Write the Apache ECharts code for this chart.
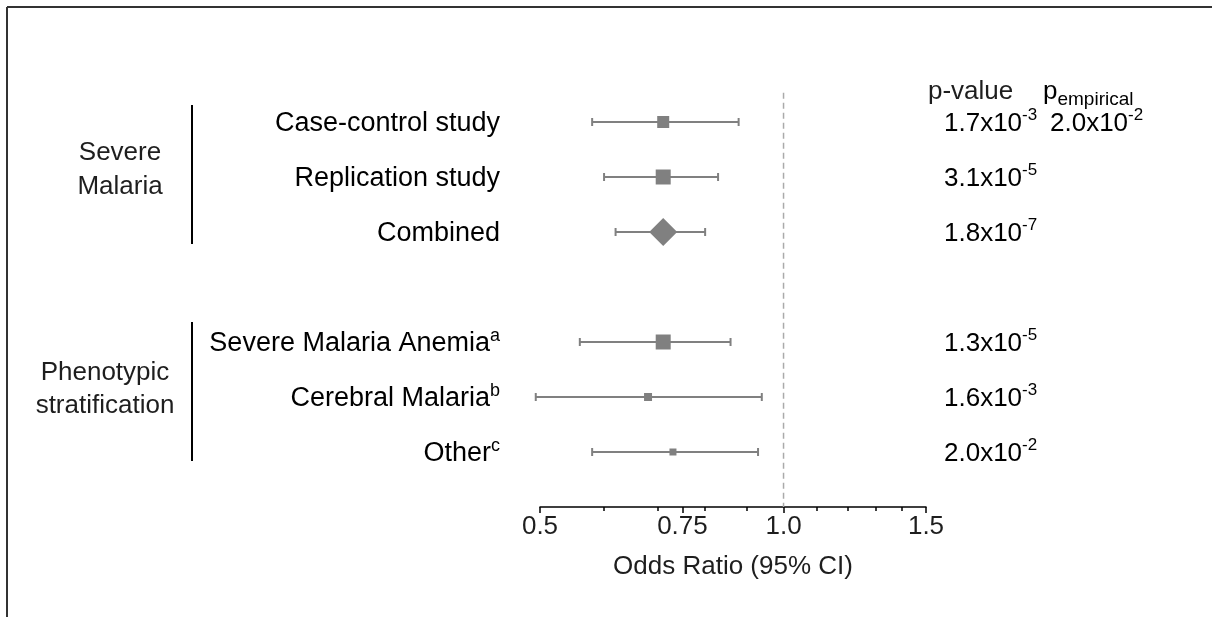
<!DOCTYPE html>
<html>
<head>
<meta charset="utf-8">
<script src="https://cdn.jsdelivr.net/npm/echarts@6/dist/echarts.min.js"></script>
<style>
  html, body { margin: 0; padding: 0; background: #fff; }
  #chart { width: 1212px; height: 617px; }
</style>
</head>
<body>
<div id="chart"></div>
<script>
// rows from top to bottom, '' is the gap between the two groups
var rowLabels = ['Case-control study', 'Replication study', 'Combined', '',
  'Severe Malaria Anemia', 'Cerebral Malaria', 'Other']
var rowSup = ['', '', '', '', 'a', 'b', 'c']
// odds ratio and 95% CI
var orVals = [0.71, 0.71, 0.71, null, 0.71, 0.68, 0.73]
var ciLow = [0.58, 0.60, 0.62, null, 0.56, 0.494, 0.58]
var ciHigh = [0.88, 0.83, 0.80, null, 0.86, 0.94, 0.93]
// p-values as mantissa / exponent
var pMant = ['1.7', '3.1', '1.8', null, '1.3', '1.6', '2.0']
var pExp = [-3, -5, -7, null, -5, -3, -2]
var pEmpMant = ['2.0', null, null, null, null, null, null]
var pEmpExp = [-2, null, null, null, null, null, null]
// x axis ticks
var majorTicks = [0.5, 0.75, 1.0, 1.5]
var majorLabels = ['0.5', '0.75', '1.0', '1.5']
var minorTicks = [0.6, 0.7, 0.8, 0.9, 1.1, 1.2, 1.3, 1.4]
var refValue = 1.0

// marker look per row
var markerSize = [12, 15, 0, 0, 15, 8, 7]
var markerShape = ['rect', 'rect', 'diamond', '', 'rect', 'rect', 'rect']

var font = '"Liberation Sans", Arial, sans-serif'
var grey = '#808080'
var ink = '#1e1e1e'

var data = []
rowLabels.forEach(function (name, i) {
  if (orVals[i] == null) return
  data.push([Math.log(orVals[i]), i, Math.log(ciLow[i]), Math.log(ciHigh[i]), i])
})

function expText(m, e) {
  return '{n|' + m + 'x10}{s|' + e + '}'
}

var richNum = {
  n: { fontSize: 26, fontFamily: font, color: ink, lineHeight: 30, verticalAlign: 'bottom' },
  s: { fontSize: 17, fontFamily: font, color: ink, lineHeight: 18, verticalAlign: 'top' }
}
var richLbl = {
  n: { fontSize: 27, fontFamily: font, color: ink, lineHeight: 30, verticalAlign: 'bottom' },
  s: { fontSize: 18, fontFamily: font, color: ink, lineHeight: 18, verticalAlign: 'top' }
}

function renderRow(params, api) {
  var i = api.value(4)
  var c = api.coord([api.value(0), i])
  var lo = api.coord([api.value(2), i])
  var hi = api.coord([api.value(3), i])
  var y = c[1]
  var cap = 4
  var kids = [
    { type: 'line', shape: { x1: lo[0], y1: y, x2: hi[0], y2: y }, style: { stroke: grey, lineWidth: 2 } },
    { type: 'line', shape: { x1: lo[0], y1: y - cap, x2: lo[0], y2: y + cap }, style: { stroke: grey, lineWidth: 2 } },
    { type: 'line', shape: { x1: hi[0], y1: y - cap, x2: hi[0], y2: y + cap }, style: { stroke: grey, lineWidth: 2 } }
  ]
  if (markerShape[i] === 'diamond') {
    kids.push({
      type: 'polygon',
      shape: { points: [[c[0], y - 14], [c[0] + 14, y], [c[0], y + 14], [c[0] - 14, y]] },
      style: { fill: grey }
    })
  } else {
    var s = markerSize[i]
    kids.push({ type: 'rect', shape: { x: c[0] - s / 2, y: y - s / 2, width: s, height: s }, style: { fill: grey } })
  }
  // row label
  var lbl = '{n|' + rowLabels[i] + '}'
  if (rowSup[i]) lbl += '{s|' + rowSup[i] + '}'
  kids.push({
    type: 'text', x: 500, y: y,
    style: { text: lbl, align: 'right', verticalAlign: 'middle', rich: richLbl }
  })
  // p-value
  if (pMant[i]) {
    kids.push({
      type: 'text', x: 944, y: y,
      style: { text: expText(pMant[i], pExp[i]), align: 'left', verticalAlign: 'middle', rich: richNum }
    })
  }
  if (pEmpMant[i]) {
    kids.push({
      type: 'text', x: 1050, y: y,
      style: { text: expText(pEmpMant[i], pEmpExp[i]), align: 'left', verticalAlign: 'middle', rich: richNum }
    })
  }
  return { type: 'group', children: kids }
}

var chart = echarts.init(document.getElementById('chart'))
var option = {
  backgroundColor: '#fff',
  animation: false,
  grid: { left: 540, right: 286, top: 67, bottom: 110 },
  xAxis: [
    {
      type: 'value',
      min: Math.log(0.5),
      max: Math.log(1.5),
      splitLine: { show: false },
      axisLine: { onZero: false, lineStyle: { color: '#000', width: 1.5 } },
      axisTick: { length: 6, lineStyle: { color: '#000', width: 1.5 }, customValues: majorTicks.map(Math.log) },
      axisLabel: {
        customValues: majorTicks.map(Math.log),
        margin: 7,
        fontSize: 26,
        fontFamily: font,
        color: ink,
        formatter: function (v) {
          for (var k = 0; k < majorTicks.length; k++) {
            if (Math.abs(Math.log(majorTicks[k]) - v) < 1e-6) return majorLabels[k]
          }
          return ''
        }
      },
      name: 'Odds Ratio (95% CI)',
      nameLocation: 'middle',
      nameGap: 47,
      nameTextStyle: { fontSize: 26, fontFamily: font, color: ink }
    },
    {
      type: 'value',
      position: 'bottom',
      min: Math.log(0.5),
      max: Math.log(1.5),
      splitLine: { show: false },
      axisLine: { show: false, onZero: false },
      axisTick: { length: 4, lineStyle: { color: '#000', width: 1.5 }, customValues: minorTicks.map(Math.log) },
      axisLabel: { show: false }
    }
  ],
  yAxis: { type: 'value', inverse: true, min: -1, max: 7, show: false },
  series: [
    {
      type: 'line',
      data: [[Math.log(refValue), -0.53], [Math.log(refValue), 7]],
      symbol: 'none',
      lineStyle: { color: '#aaa', width: 1.5, type: [6, 4] },
      silent: true
    },
    {
      type: 'custom',
      renderItem: renderRow,
      data: data,
      encode: { x: 0, y: 1 }
    }
  ],
  graphic: [
    { type: 'line', shape: { x1: 7, y1: 7, x2: 1212, y2: 7 }, style: { stroke: '#333', lineWidth: 2 } },
    { type: 'line', shape: { x1: 7, y1: 7, x2: 7, y2: 617 }, style: { stroke: '#333', lineWidth: 2 } },
    { type: 'line', shape: { x1: 192, y1: 105, x2: 192, y2: 244 }, style: { stroke: '#000', lineWidth: 2 } },
    { type: 'line', shape: { x1: 192, y1: 322, x2: 192, y2: 461 }, style: { stroke: '#000', lineWidth: 2 } },
    {
      type: 'text', x: 120, y: 170,
      style: { text: 'Severe\nMalaria', align: 'center', verticalAlign: 'middle', font: '26px ' + font, lineHeight: 34, fill: ink }
    },
    {
      type: 'text', x: 105, y: 389,
      style: { text: 'Phenotypic\nstratification', align: 'center', verticalAlign: 'middle', font: '26px ' + font, lineHeight: 33, fill: ink }
    },
    {
      type: 'text', x: 928, y: 92,
      style: { text: 'p-value', align: 'left', verticalAlign: 'middle', font: '26px ' + font, fill: ink }
    },
    {
      type: 'text', x: 1043, y: 94,
      style: {
        text: '{p|p}{e|empirical}', align: 'left', verticalAlign: 'middle',
        rich: {
          p: { fontSize: 26, fontFamily: font, color: ink, lineHeight: 30, verticalAlign: 'top' },
          e: { fontSize: 19, fontFamily: font, color: ink, lineHeight: 20, verticalAlign: 'bottom' }
        }
      }
    }
  ]
}
chart.setOption(option)
</script>
</body>
</html>
